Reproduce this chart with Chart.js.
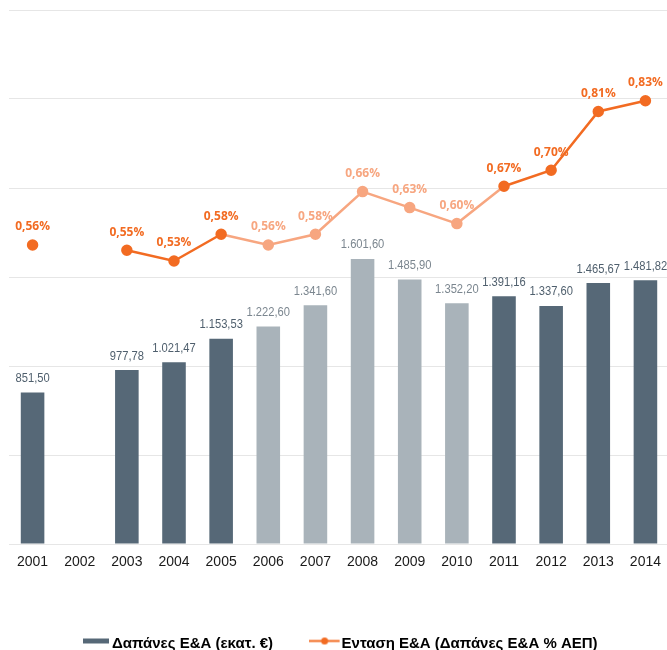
<!DOCTYPE html>
<html lang="el">
<head>
<meta charset="UTF-8">
<title>Δαπάνες και Ένταση Ε&Α</title>
<script src="https://cdn.jsdelivr.net/npm/chart.js@4"></script>
<style>
  html, body { margin: 0; padding: 0; background: #fff; overflow: hidden; }
  .wrap { width: 676px; height: 650px; }
</style>
</head>
<body>
<div class="wrap"><canvas id="chart" width="676" height="650"></canvas></div>
<script>
// data
const years = ['2001', '2002', '2003', '2004', '2005', '2006', '2007', '2008', '2009', '2010', '2011', '2012', '2013', '2014'];
const spending = [851.50, null, 977.78, 1021.47, 1153.53, 1222.60, 1341.60, 1601.60, 1485.90, 1352.20, 1391.16, 1337.60, 1465.67, 1481.82];
const intensity = [0.56, null, 0.55, 0.53, 0.58, 0.56, 0.58, 0.66, 0.63, 0.60, 0.67, 0.70, 0.81, 0.83];
// years drawn in the lighter shade
const lightYears = ['2006', '2007', '2008', '2009', '2010'];

const barLabel = 'Δαπάνες Ε&Α (εκατ. €)';
const lineLabel = 'Ενταση Ε&Α (Δαπάνες Ε&Α % ΑΕΠ)';

const DARK = '#566877', LIGHTBAR = '#a9b3ba';
const ORANGE = '#f26b22', LIGHTORANGE = '#f7a680';

const isLight = i => lightYears.includes(years[i]);

function fmtMoney(v) {
    const parts = v.toFixed(2).split('.');
    parts[0] = parts[0].replace(/\B(?=(\d{3})+(?!\d))/g, '.');
    return parts[0] + ',' + parts[1];
}
const fmtPct = v => v.toFixed(2).replace('.', ',') + '%';

// legend swatches (drawn a bit above the text middle, like the original)
const barSwatch = document.createElement('canvas');
barSwatch.width = 26; barSwatch.height = 14;
(function () {
    const c = barSwatch.getContext('2d');
    c.fillStyle = DARK;
    c.fillRect(0, 2, 26, 5);
})();
const lineSwatch = document.createElement('canvas');
lineSwatch.width = 34; lineSwatch.height = 14;
(function () {
    const c = lineSwatch.getContext('2d');
    c.strokeStyle = ORANGE; c.lineWidth = 2;
    c.beginPath(); c.moveTo(0, 4.5); c.lineTo(31, 4.5); c.stroke();
    c.fillStyle = ORANGE;
    c.beginPath(); c.arc(16, 4.5, 3.5, 0, Math.PI * 2); c.fill();
})();

// value labels above bars and points
const valueLabels = {
    id: 'valueLabels',
    afterDatasetsDraw(chart) {
        const ctx = chart.ctx;
        chart.data.datasets.forEach((ds, i) => {
            const meta = chart.getDatasetMeta(i);
            meta.data.forEach((el, j) => {
                const v = ds.data[j];
                if (v == null) return;
                ctx.save();
                ctx.textAlign = 'center';
                ctx.textBaseline = 'middle';
                if (ds.type === 'bar') {
                    // narrow-looking numbers
                    ctx.font = '13px "Liberation Sans", Arial, sans-serif';
                    ctx.fillStyle = isLight(j) ? '#7b868f' : '#4f5f6d';
                    ctx.translate(el.x, el.y - 14);
                    ctx.scale(0.86, 1);
                    ctx.fillText(fmtMoney(v), 0, 0);
                } else {
                    ctx.font = 'bold 12px "Open Sans", sans-serif';
                    ctx.fillStyle = isLight(j) ? LIGHTORANGE : ORANGE;
                    ctx.fillText(fmtPct(v), el.x, el.y - 18);
                }
                ctx.restore();
            });
        });
    }
};

new Chart(document.getElementById('chart'), {
    data: {
        labels: years,
        datasets: [
            {
                type: 'line',
                label: lineLabel,
                data: intensity,
                yAxisID: 'y1',
                order: 0,
                borderColor: ORANGE,
                borderWidth: 2.5,
                pointRadius: 4.5,
                pointHoverRadius: 4.5,
                pointBackgroundColor: years.map((y, i) => isLight(i) ? LIGHTORANGE : ORANGE),
                pointBorderColor: years.map((y, i) => isLight(i) ? LIGHTORANGE : ORANGE),
                segment: {
                    borderColor: c => (isLight(c.p0DataIndex) || isLight(c.p1DataIndex)) ? LIGHTORANGE : ORANGE
                }
            },
            {
                type: 'bar',
                label: barLabel,
                data: spending,
                yAxisID: 'y',
                order: 1,
                backgroundColor: years.map((y, i) => isLight(i) ? LIGHTBAR : DARK),
                barPercentage: 0.5,
                categoryPercentage: 1.0
            }
        ]
    },
    options: {
        responsive: false,
        animation: false,
        layout: { padding: { left: 9, top: 10, right: 0, bottom: 0 } },
        plugins: {
            tooltip: { enabled: false },
            legend: {
                position: 'bottom',
                maxHeight: 58,
                labels: {
                    usePointStyle: true,
                    pointStyleWidth: 17,
                    padding: 44,
                    color: '#1a1a1a',
                    font: { family: '"Liberation Sans", Arial, sans-serif', size: 15, weight: 'bold' },
                    generateLabels: () => [
                        { text: barLabel, pointStyle: barSwatch, fillStyle: DARK, strokeStyle: DARK, lineWidth: 0, datasetIndex: 1, hidden: false },
                        { text: lineLabel, pointStyle: lineSwatch, fillStyle: ORANGE, strokeStyle: ORANGE, lineWidth: 0, datasetIndex: 0, hidden: false }
                    ]
                }
            }
        },
        scales: {
            x: {
                grid: { display: false, drawTicks: false },
                border: { display: false },
                ticks: {
                    padding: 10,
                    color: '#1a1a1a',
                    font: { family: '"Liberation Sans", Arial, sans-serif', size: 14 }
                },
                afterFit: s => { s.height = 48; }
            },
            y: {
                min: 0,
                max: 3000,
                ticks: { stepSize: 500, display: false },
                grid: { color: '#e6e6e6', lineWidth: 1, drawTicks: false },
                border: { display: false }
            },
            y1: {
                display: false,
                position: 'right',
                min: 0,
                max: 1.0
            }
        }
    },
    plugins: [valueLabels]
});
</script>
</body>
</html>
